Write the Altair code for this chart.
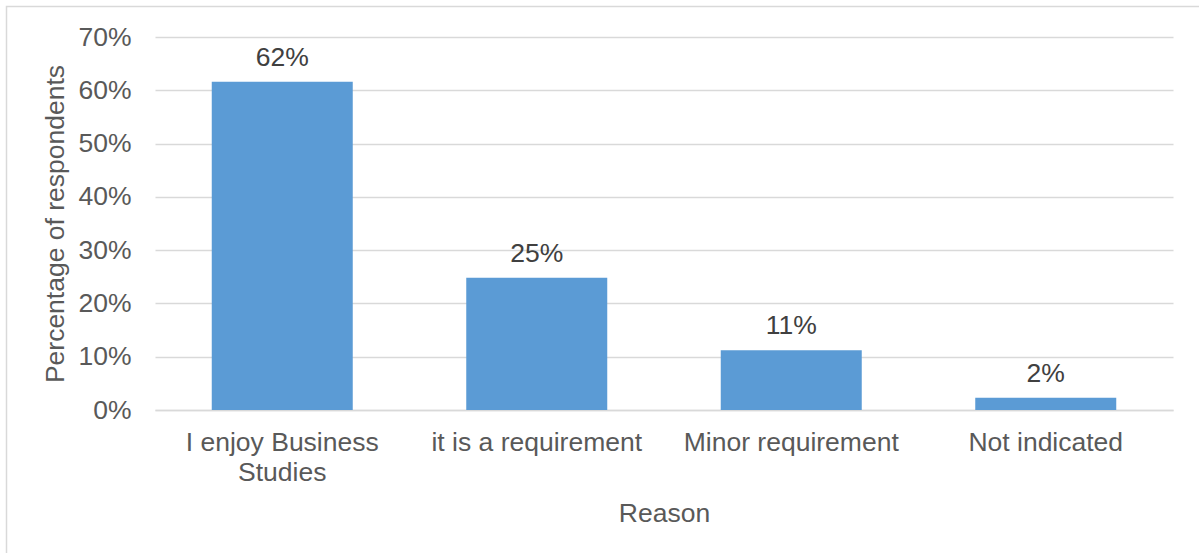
import altair as alt
import pandas as pd

# Survey responses: reason for taking the subject
reasons = ["I enjoy Business Studies", "it is a requirement", "Minor requirement", "Not indicated"]
shares = [0.616, 0.248, 0.112, 0.023]

df = pd.DataFrame({"Reason": reasons, "Share": shares})

FONT = "Liberation Sans"
FS = 26.5
TEXT = "#595959"
GRID = "#d9d9d9"
BAR = "#5b9bd5"

x_enc = alt.X(
    "Reason:N",
    sort=reasons,
    scale=alt.Scale(paddingInner=0.446, paddingOuter=0.223),
    axis=alt.Axis(
        title="Reason",
        labelAngle=0,
        labelFontSize=FS,
        labelColor=TEXT,
        labelPadding=19,
        labelLineHeight=30,
        labelLimit=0,
        labelExpr="datum.value == 'I enjoy Business Studies' ? ['I enjoy Business', 'Studies'] : datum.value",
        ticks=False,
        domainColor=GRID,
        domainWidth=1.5,
        titleFontSize=FS,
        titleFontWeight="normal",
        titleColor=TEXT,
        titleY=111,
        titleBaseline="alphabetic",
    ),
)

y_enc = alt.Y(
    "Share:Q",
    scale=alt.Scale(domain=[0, 0.7], nice=False),
    axis=alt.Axis(
        title="Percentage of respondents",
        format=".0%",
        values=[0, 0.1, 0.2, 0.3, 0.4, 0.5, 0.6, 0.7],
        labelFontSize=FS,
        labelColor=TEXT,
        labelPadding=24,
        ticks=False,
        domain=False,
        grid=True,
        gridColor=GRID,
        gridWidth=1.5,
        titleFontSize=FS,
        titleFontWeight="normal",
        titleColor=TEXT,
        titleX=-92,
        titleY=186.5,
        titleAlign="center",
        titleBaseline="alphabetic",
    ),
)

bars = alt.Chart(df).mark_bar(color=BAR).encode(x=x_enc, y=y_enc)

labels = alt.Chart(df).mark_text(
    font=FONT, fontSize=FS, color="#404040", baseline="alphabetic", dy=-16
).encode(
    x=alt.X("Reason:N", sort=reasons),
    y="Share:Q",
    text=alt.Text("Share:Q", format=".0%"),
)

# Light outline around the whole chart area
frame = alt.Chart(alt.Data(values=[{}])).mark_rect(
    fill=None, stroke=GRID, strokeWidth=1.5
).encode(
    x=alt.value(-148.5),
    y=alt.value(-30.5),
    x2=alt.value(1080),
    y2=alt.value(600),
)

chart = (
    alt.layer(frame, bars, labels)
    .properties(
        width=1018,
        height=373,
        autosize=alt.AutoSizeParams(type="none"),
        padding={"left": 155, "top": 37, "right": 26, "bottom": 143},
        background="white",
    )
    .configure(font=FONT)
    .configure_view(stroke=None)
)

chart.save("out.html", embed_options={"renderer": "svg", "actions": False})
